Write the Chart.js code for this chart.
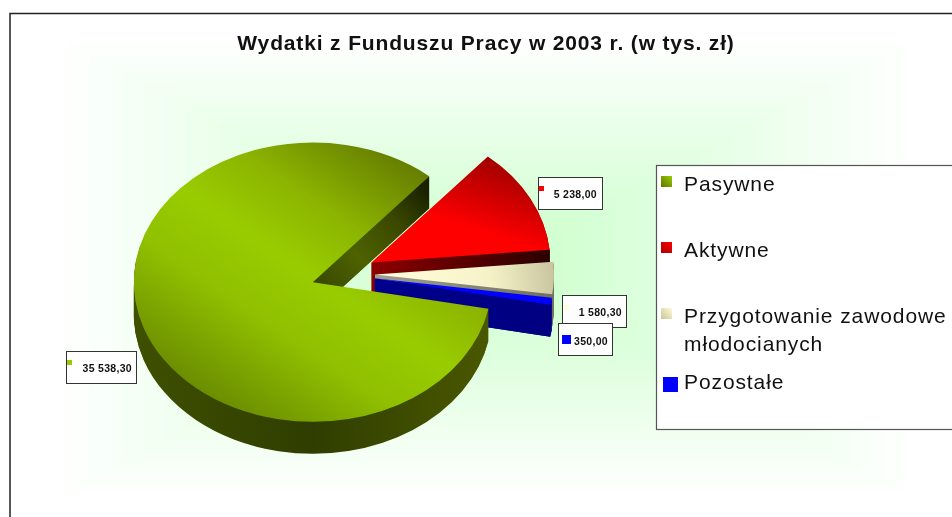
<!DOCTYPE html>
<html lang="pl">
<head>
<meta charset="utf-8">
<title>Wydatki z Funduszu Pracy w 2003 r.</title>
<style>html,body{margin:0;padding:0;background:#fff}canvas{display:block}</style>
<script src="https://cdn.jsdelivr.net/npm/chart.js@4/dist/chart.umd.min.js"></script>
</head>
<body>
<canvas id="c" width="952" height="517"></canvas>
<script>
const chartTitle = 'Wydatki z Funduszu Pracy w 2003 r. (w tys. zł)';
const categories = ['Pasywne', 'Aktywne', 'Przygotowanie zawodowe młodocianych', 'Pozostałe'];
const values = [35538.30, 5238.00, 1580.30, 350.00];
const valueLabels = ['35 538,30', '5 238,00', '1 580,30', '350,00'];

const FONT = '"Liberation Sans", Arial, sans-serif';
const keyColors = [['#99cc00', '#5f7400'], ['#ff0000', '#a80000'], ['#fffcd8', '#c8c49a'], ['#0000ff', '#0000ff']];
const PIE = {cx: 343, cy: 274, radius: 179, squash: 0.78, depth: 32, explode: 32, paint: [1, 2, 3, 0]};
const faces = [
  {from: [165, 425], to: [450, 165], stops: [[0, '#587400'], [0.38, '#90c000'], [0.55, '#99cc00'], [0.72, '#8cb400'], [1, '#5c7000']]},
  {from: [495, 158], to: [440, 262], stops: [[0, '#a00000'], [0.65, '#ff0000'], [1, '#ff0000']]},
  {from: [400, 275], to: [560, 262], stops: [[0, '#fffcd8'], [0.55, '#f6f2c8'], [1, '#c4c09a']]},
  {from: [376, 280], to: [553, 300], stops: [[0, '#0000ff'], [1, '#0000ff']]}
];
const rims = [
  {from: [133, 0], to: [490, 0], stops: [[0, '#3f5000'], [0.5, '#2f3e00'], [1, '#4a5800']]},
  {from: [372, 0], to: [550, 0], stops: [[0, '#700000'], [1, '#300000']]},
  {from: [375, 0], to: [553, 0], stops: [[0, '#909080'], [1, '#70705c']]},
  {from: [376, 0], to: [553, 0], stops: [[0, '#000088'], [1, '#000088']]}
];
const walls = [
  {from: [322, 292], to: [430, 195], stops: [[0, '#384800'], [0.35, '#4e6200'], [0.7, '#3a4800'], [1, '#1a2200']]},
  {from: [372, 0], to: [548, 0], stops: [[0, '#8c0000'], [1, '#2c0000']]},
  {from: [375, 0], to: [553, 0], stops: [[0, '#a0a090'], [1, '#70705c']]},
  {from: [376, 0], to: [553, 0], stops: [[0, '#00008c'], [1, '#000080']]}
];
const labelBoxes = [
  {x: 66, y: 351, w: 70, h: 32, key: [67, 360, 5, 5], right: 132, base: 372},
  {x: 538, y: 177, w: 64, h: 32, key: [539, 186, 5, 5], right: 597, base: 198},
  {x: 562, y: 295, w: 64, h: 32, key: [564, 305, 5, 5], right: 622, base: 316},
  {x: 558, y: 323, w: 54, h: 32, key: [562, 335, 9, 9], right: 608, base: 345}
];
const legendBox = {x: 656, y: 165, w: 310, h: 264, textX: 684, maxWidth: 272, lineGap: 28};
const legendRows = [
  {key: [661, 176, 11, 11], base: 191},
  {key: [661, 242, 11, 11], base: 257},
  {key: [661, 308, 11, 11], base: 323},
  {key: [663, 377, 15, 15], base: 389}
];

function gradient(ctx, g) {
  const inv = ctx.getTransform().inverse();
  const a = inv.transformPoint({x: g.from[0], y: g.from[1]});
  const b = inv.transformPoint({x: g.to[0], y: g.to[1]});
  const lg = ctx.createLinearGradient(a.x, a.y, b.x, b.y);
  g.stops.forEach(s => lg.addColorStop(s[0], s[1]));
  return lg;
}

function place(ctx, arc, shift) {
  const mid = (arc.startAngle + arc.endAngle) / 2;
  ctx.translate(PIE.cx + Math.cos(mid) * PIE.explode,
                PIE.cy + Math.sin(mid) * PIE.explode * PIE.squash + shift);
  ctx.scale(1, PIE.squash);
  ctx.translate(-arc.x, -arc.y);
}

function drawArcWith(ctx, arc, shift, spec) {
  ctx.save();
  place(ctx, arc, shift);
  const keep = arc.options;
  arc.options = Object.assign({}, keep, {backgroundColor: gradient(ctx, spec), borderWidth: 0});
  arc.draw(ctx);
  arc.options = keep;
  ctx.restore();
}

function drawWall(ctx, arc, spec) {
  const mid = (arc.startAngle + arc.endAngle) / 2;
  const vx = PIE.cx + Math.cos(mid) * PIE.explode;
  const vy = PIE.cy + Math.sin(mid) * PIE.explode * PIE.squash;
  const ox = vx + Math.cos(arc.endAngle) * arc.outerRadius;
  const oy = vy + Math.sin(arc.endAngle) * arc.outerRadius * PIE.squash;
  ctx.save();
  ctx.beginPath();
  ctx.moveTo(vx, vy);
  ctx.lineTo(ox, oy);
  ctx.lineTo(ox, oy + PIE.depth);
  ctx.lineTo(vx, vy + PIE.depth);
  ctx.closePath();
  ctx.fillStyle = gradient(ctx, spec);
  ctx.fill();
  ctx.restore();
}

const backdrop = {
  id: 'backdrop',
  beforeDraw(chart) {
    const ctx = chart.ctx;
    const steps = 40;
    const out = {l: 58, t: 37, r: 915, b: 497};
    const inn = {x: 486.5, y: 267};
    ctx.save();
    ctx.fillStyle = '#fff';
    ctx.fillRect(0, 0, chart.width, chart.height);
    for (let i = 0; i < steps; i++) {
      const f = i / steps;
      const e = (i + 0.25) / steps;
      const mix = c => Math.round(255 + (c - 255) * e);
      ctx.fillStyle = `rgb(${mix(200)},255,${mix(200)})`;
      const x0 = out.l + (inn.x - out.l) * f;
      const x1 = out.r + (inn.x - out.r) * f;
      const y0 = out.t + (inn.y - out.t) * f;
      const y1 = out.b + (inn.y - out.b) * f;
      ctx.fillRect(x0, y0, x1 - x0, y1 - y0);
    }
    ctx.strokeStyle = '#222';
    ctx.lineWidth = 1.5;
    ctx.beginPath();
    ctx.moveTo(10, 517);
    ctx.lineTo(10, 13.5);
    ctx.lineTo(952, 13.5);
    ctx.stroke();
    ctx.restore();
    ctx.letterSpacing = '0.85px';
  }
};

const pie3d = {
  id: 'pie3d',
  beforeDatasetDraw(chart, args) {
    const ctx = chart.ctx;
    const arcs = args.meta.data;
    PIE.paint.forEach(i => {
      const arc = arcs[i];
      for (let k = PIE.depth; k >= 1; k--) drawArcWith(ctx, arc, k, rims[i]);
      drawWall(ctx, arc, walls[i]);
      drawArcWith(ctx, arc, 0, faces[i]);
    });
    return false;
  },
  afterDraw(chart) {
    const ctx = chart.ctx;
    ctx.save();
    ctx.textBaseline = 'alphabetic';
    // data labels
    ctx.letterSpacing = '0.3px';
    labelBoxes.forEach((b, i) => {
      ctx.fillStyle = '#fff';
      ctx.fillRect(b.x, b.y, b.w, b.h);
      ctx.strokeStyle = '#333';
      ctx.lineWidth = 1;
      ctx.strokeRect(b.x + .5, b.y + .5, b.w, b.h);
      ctx.fillStyle = keyColors[i][0];
      ctx.fillRect.apply(ctx, b.key);
      ctx.fillStyle = '#111';
      ctx.font = 'bold 10.5px ' + FONT;
      ctx.textAlign = 'right';
      ctx.fillText(valueLabels[i], b.right, b.base);
    });
    // legend
    const L = legendBox;
    ctx.fillStyle = '#fff';
    ctx.fillRect(L.x, L.y, L.w, L.h);
    ctx.strokeStyle = '#555';
    ctx.lineWidth = 1.2;
    ctx.strokeRect(L.x + .5, L.y + .5, L.w, L.h);
    ctx.textAlign = 'left';
    ctx.font = '21px ' + FONT;
    ctx.letterSpacing = '0.9px';
    categories.forEach((name, i) => {
      const r = legendRows[i];
      const [x, y, w, h] = r.key;
      const g = ctx.createLinearGradient(x + w, y, x, y + h);
      g.addColorStop(0, keyColors[i][0]);
      g.addColorStop(1, keyColors[i][1]);
      ctx.fillStyle = g;
      ctx.fillRect(x, y, w, h);
      ctx.fillStyle = '#111';
      const lines = [];
      let cur = '';
      name.split(' ').forEach(word => {
        const t = cur ? cur + ' ' + word : word;
        if (ctx.measureText(t).width > L.maxWidth && cur) { lines.push(cur); cur = word; }
        else cur = t;
      });
      lines.push(cur);
      lines.forEach((ln, j) => ctx.fillText(ln, L.textX, r.base + j * L.lineGap));
    });
    ctx.restore();
  }
};

new Chart(document.getElementById('c'), {
  type: 'pie',
  data: {
    labels: categories,
    datasets: [{data: values, backgroundColor: keyColors.map(k => k[0]), borderWidth: 0}]
  },
  plugins: [backdrop, pie3d],
  options: {
    responsive: false,
    animation: false,
    rotation: 101,
    radius: PIE.radius,
    layout: {padding: {left: 20, right: 0, top: 0, bottom: 0}},
    plugins: {
      legend: {display: false},
      tooltip: {enabled: false},
      title: {
        display: true,
        text: chartTitle,
        color: '#111',
        font: {family: FONT, size: 21, weight: 'bold'},
        padding: {top: 32, bottom: 4}
      }
    }
  }
});
</script>
</body>
</html>
